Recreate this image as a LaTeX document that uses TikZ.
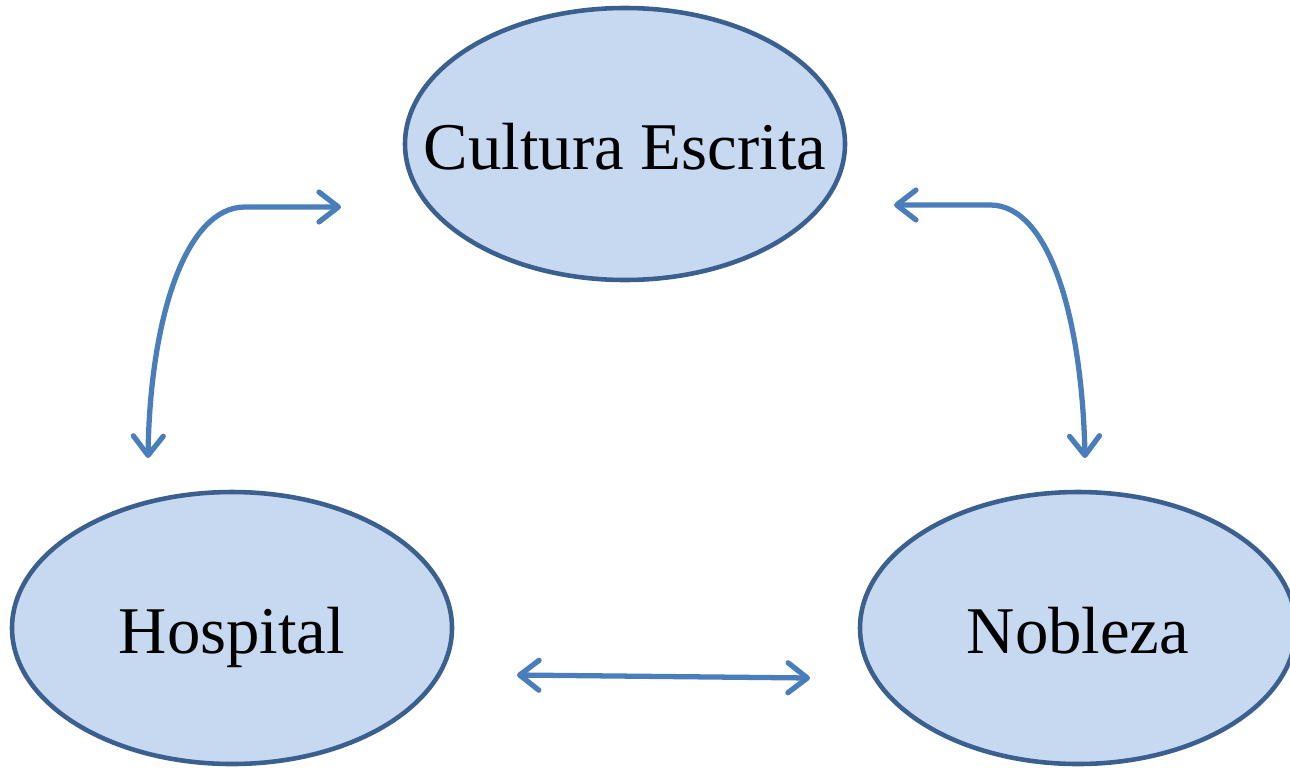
\documentclass[tikz,border=0pt]{standalone}
\usepackage{fontspec}
\setmainfont{Liberation Serif}
\usetikzlibrary{arrows.meta, shapes.geometric}
\definecolor{ellfill}{HTML}{C6D9F1}
\definecolor{elldraw}{HTML}{3B5F8E}
\definecolor{arrcol}{HTML}{4A7EBB}

\begin{document}
\begin{tikzpicture}[x=0.02cm, y=-0.02cm, font=\fontsize{38}{44}\selectfont,
  topic/.style={ellipse, draw=elldraw, fill=ellfill, line width=2.6pt, inner xsep=-40pt, inner ysep=0pt, text height=37pt, text depth=8pt, minimum width=#1, minimum height=272*0.02cm},
  topic/.default=440*0.02cm,
  link/.style={draw=arrcol, line width=3pt, line cap=round, {Straight Barb[length=11pt, width=17pt, line cap=round, line join=round]}-{Straight Barb[length=11pt, width=17pt, line cap=round, line join=round]}}]

\useasboundingbox (0,0) rectangle (1290,767);

\begin{scope}
\node[topic] (cultura) at (625,144) {Cultura Escrita};
\node[topic] (hospital) at (232,628) {Hospital};
\node[topic=436*0.02cm] (nobleza) at (1078,628) {Nobleza};

\coordinate (h1) at (148,458);
\coordinate (c1) at (341,207);
\coordinate (c2) at (894,205);
\coordinate (n1) at (1085,458);
\coordinate (h2) at (517,675);
\coordinate (n2) at (810,678);

\draw[link] (h1) .. controls (150,320) and (185,207) .. (245,207) -- (c1);
\draw[link] (c2) -- (990,205) .. controls (1050,205) and (1082,320) .. (n1);
\draw[link] (h2) -- (n2);
\end{scope}

\end{tikzpicture}
\end{document}
